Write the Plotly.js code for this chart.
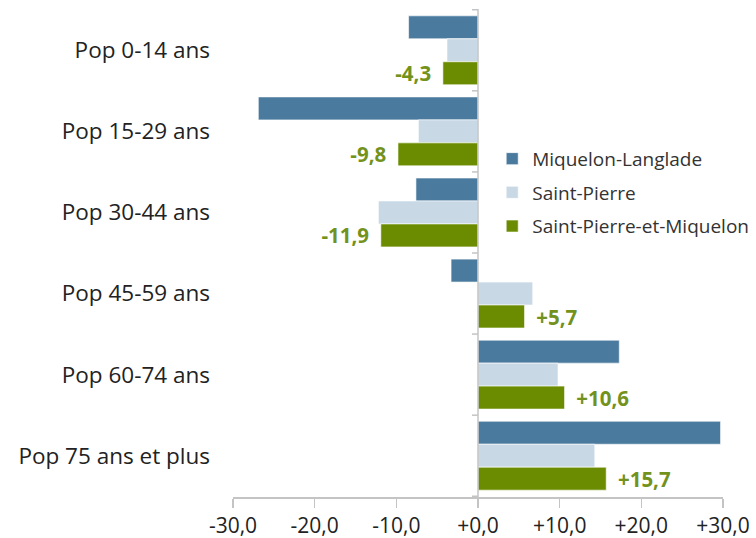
<!DOCTYPE html>
<html>
<head>
<meta charset="utf-8">
<script src="https://cdn.plot.ly/plotly-3.0.1.min.js"></script>
<style>html,body{margin:0;padding:0;background:#fff;}#chart{width:756px;height:538px;}</style>
</head>
<body>
<div id="chart"></div>
<script>
var categories = ["Pop 0-14 ans","Pop 15-29 ans","Pop 30-44 ans","Pop 45-59 ans","Pop 60-74 ans","Pop 75 ans et plus"];
var miquelon = [-8.5, -26.9, -7.6, -3.3, 17.3, 29.7];
var saintPierre = [-3.8, -7.3, -12.2, 6.7, 9.8, 14.3];
var spm = [-4.3, -9.8, -11.9, 5.7, 10.6, 15.7];
var seriesNames = ["Miquelon-Langlade","Saint-Pierre","Saint-Pierre-et-Miquelon"];
var tickVals = [-30,-20,-10,0,10,20,30];
var tickText = ["-30,0","-20,0","-10,0","+0,0","+10,0","+20,0","+30,0"];

var PAD = "\u00a0\u2009";
function fmt(v){
  var s = (v>=0?"+":"-") + Math.abs(v).toFixed(1).replace(".", ",");
  return v>=0 ? PAD + s : s + PAD;
}

var FONT = "Open Sans, sans-serif";
var lineCol = "#c4c4c4";

var traces = [
  {type:"bar", orientation:"h", name:seriesNames[0], y:categories, x:miquelon, legendgroup:"a",
   marker:{color:"#4a7a9d", line:{color:"rgba(255,255,255,0.6)", width:1}}, hoverinfo:"skip"},
  {type:"bar", orientation:"h", name:seriesNames[1], y:categories, x:saintPierre, legendgroup:"b",
   marker:{color:"#c8d8e5", line:{color:"rgba(255,255,255,0.6)", width:1}}, hoverinfo:"skip"},
  {type:"bar", orientation:"h", name:seriesNames[2], y:categories, x:spm, legendgroup:"c",
   marker:{color:"#6b8c00", line:{color:"rgba(255,255,255,0.6)", width:1}}, hoverinfo:"skip",
   text: spm.map(fmt), textposition:"outside", cliponaxis:false, constraintext:"none",
   textfont:{family:FONT, size:20.5, color:"#72921c", weight:"bold"}}
];

var shapes = [
  {type:"line", xref:"x", yref:"paper", x0:0, x1:0, y0:0, y1:1, line:{color:lineCol, width:1.5}}
];
for (var i=0;i<=categories.length;i++){
  shapes.push({type:"line", xref:"x", yref:"y", xsizemode:"pixel", xanchor:0, x0:-6, x1:0,
    y0:i-0.5, y1:i-0.5, line:{color:lineCol, width:1.5}});
}

var layout = {
  width:756, height:538,
  margin:{l:233, r:33, t:9, b:41, autoexpand:false},
  paper_bgcolor:"#fff", plot_bgcolor:"#fff",
  barmode:"group", bargap:0.15, bargroupgap:0,
  font:{family:FONT, color:"#333"},
  showlegend:true,
  legend:{x:0.529, y:0.732, xanchor:"left", yanchor:"top", traceorder:"grouped", tracegroupgap:6,
    font:{family:FONT, size:19, color:"#333"}, bgcolor:"rgba(0,0,0,0)", itemwidth:30},
  xaxis:{range:[-30,30], tickvals:tickVals, ticktext:tickText, showgrid:false, zeroline:false, automargin:false,
    showline:true, linecolor:lineCol, linewidth:1.5, ticks:"outside", ticklen:9, tickcolor:lineCol, tickwidth:1.5,
    tickfont:{family:FONT, size:21, color:"#222"}, fixedrange:true},
  yaxis:{autorange:"reversed", showgrid:false, zeroline:false, showline:false, ticks:"", automargin:false,
    ticklabelstandoff:22, tickfont:{family:FONT, size:22.5, color:"#222"}, fixedrange:true},
  shapes:shapes
};

Plotly.newPlot("chart", traces, layout, {displayModeBar:false, staticPlot:true});
</script>
</body>
</html>
